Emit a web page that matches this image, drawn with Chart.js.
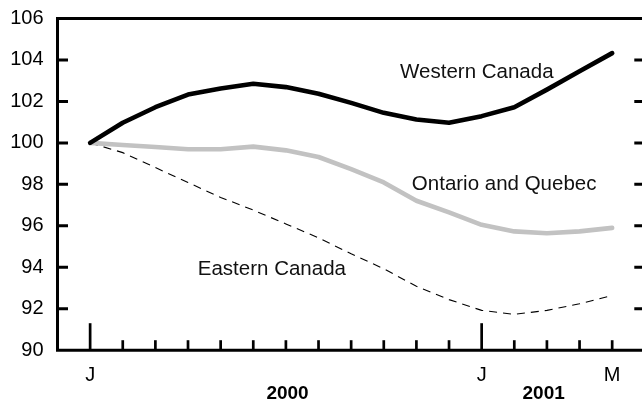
<!DOCTYPE html>
<html>
<head>
<meta charset="utf-8">
<script src="https://cdn.jsdelivr.net/npm/chart.js@4.4.1/dist/chart.umd.min.js"></script>
<style>
html,body{margin:0;padding:0;background:#fff;overflow:hidden;}
#wrap{width:650px;height:402px;}
</style>
</head>
<body>
<div id="wrap"><canvas id="c" width="650" height="402"></canvas></div>
<script>
// Months Jan 2000 .. May 2001 (index 0..16)
const months = ['J','F','M','A','M','J','J','A','S','O','N','D','J','F','M','A','M'];
const shownMonthLabels = {0:'J', 12:'J', 16:'M'};
const yearLabels = ['2000','2001'];
const yearPositions = [6.05, 13.9];
const yTicks = [90,92,94,96,98,100,102,104,106];

const westernCanada = [100, 100.97, 101.72, 102.33, 102.62, 102.85, 102.69, 102.37, 101.93, 101.45, 101.13, 100.97, 101.29, 101.72, 102.57, 103.45, 104.33];
const ontarioQuebec = [100, 99.9, 99.8, 99.69, 99.69, 99.82, 99.64, 99.32, 98.73, 98.09, 97.21, 96.65, 96.05, 95.73, 95.64, 95.73, 95.9];
const easternCanada = [100, 99.53, 98.81, 98.09, 97.37, 96.76, 96.09, 95.42, 94.65, 93.93, 93.08, 92.44, 91.92, 91.73, 91.92, 92.24, 92.64];

const seriesNames = ['Western Canada', 'Ontario and Quebec', 'Eastern Canada'];
const labelAnchors = [[9.5, 103.12], [9.86, 97.73], [3.3, 93.63]];

function pts(arr){ return arr.map((v,i)=>({x:i,y:v})); }

const FONT = '"Liberation Sans", Arial, sans-serif';

const framePlugin = {
  id:'frame',
  afterDraw(chart){
    const ctx = chart.ctx, a = chart.chartArea;
    const xs = chart.scales.x, ys = chart.scales.y;
    ctx.save();
    ctx.strokeStyle = '#000';
    ctx.lineWidth = 3;
    ctx.lineCap = 'square';
    ctx.beginPath();
    ctx.moveTo(a.left, a.bottom); ctx.lineTo(a.left, a.top);
    ctx.lineTo(a.right, a.top); ctx.lineTo(a.right, a.bottom);
    ctx.closePath();
    ctx.stroke();
    ctx.lineCap = 'butt';
    // y ticks inward on both sides
    yTicks.forEach(v=>{
      if (v===90 || v===106) return;
      const y = ys.getPixelForValue(v);
      ctx.beginPath();
      ctx.moveTo(a.left, y); ctx.lineTo(a.left+10.5, y);
      ctx.moveTo(a.right-10.5, y); ctx.lineTo(a.right, y);
      ctx.stroke();
    });
    // x ticks
    ctx.lineWidth = 2.7;
    months.forEach((m,i)=>{
      const x = xs.getPixelForValue(i);
      const len = (i===0 || i===12) ? 27 : 10;
      ctx.beginPath();
      ctx.moveTo(x, a.bottom); ctx.lineTo(x, a.bottom-len);
      ctx.stroke();
    });
    // year labels
    ctx.fillStyle = '#000';
    ctx.font = 'bold 19px ' + FONT;
    ctx.textAlign = 'center';
    ctx.textBaseline = 'alphabetic';
    yearLabels.forEach((t,k)=>{
      ctx.fillText(t, xs.getPixelForValue(yearPositions[k]), 399);
    });
    // series labels
    ctx.font = '20.5px ' + FONT;
    ctx.textAlign = 'left';
    ctx.fillStyle = '#111';
    seriesNames.forEach((n,k)=>{
      ctx.fillText(n, xs.getPixelForValue(labelAnchors[k][0]), ys.getPixelForValue(labelAnchors[k][1]));
    });
    ctx.restore();
  }
};

new Chart(document.getElementById('c'), {
  type:'line',
  data:{
    datasets:[
      {label:seriesNames[0], data:pts(westernCanada), borderColor:'#000', borderWidth:4.6, pointRadius:0, tension:0, borderJoinStyle:'round', borderCapStyle:'round'},
      {label:seriesNames[1], data:pts(ontarioQuebec), borderColor:'#c2c2c2', borderWidth:4.6, pointRadius:0, tension:0, borderJoinStyle:'round', borderCapStyle:'round'},
      {label:seriesNames[2], data:pts(easternCanada), borderColor:'#000', borderWidth:1.1, borderDash:[8,6], pointRadius:0, tension:0}
    ]
  },
  options:{
    responsive:false,
    animation:false,
    devicePixelRatio:1,
    layout:{padding:{left:0, right:5.2, top:18.5, bottom:0}},
    plugins:{legend:{display:false}, tooltip:{enabled:false}},
    scales:{
      x:{
        type:'linear', min:-1, max:17,
        grid:{display:false, drawTicks:false},
        border:{display:false},
        ticks:{stepSize:1, autoSkip:false, maxRotation:0, padding:13,
          color:'#000', font:{family:FONT, size:20},
          callback:(v)=> shownMonthLabels[v] !== undefined ? shownMonthLabels[v] : ''},
        afterFit:(s)=>{ s.height = 51.8; s.paddingLeft = 0; s.paddingRight = 0; }
      },
      y:{
        min:90, max:106,
        grid:{display:false, drawTicks:false},
        border:{display:false},
        ticks:{stepSize:2, padding:14, color:'#000', font:{family:FONT, size:20},
          callback:(v)=> yTicks.includes(v) ? String(v) : ''},
        afterFit:(s)=>{ s.width = 57.5; s.paddingTop = 0; s.paddingBottom = 0; }
      }
    }
  },
  plugins:[framePlugin]
});
</script>
</body>
</html>
